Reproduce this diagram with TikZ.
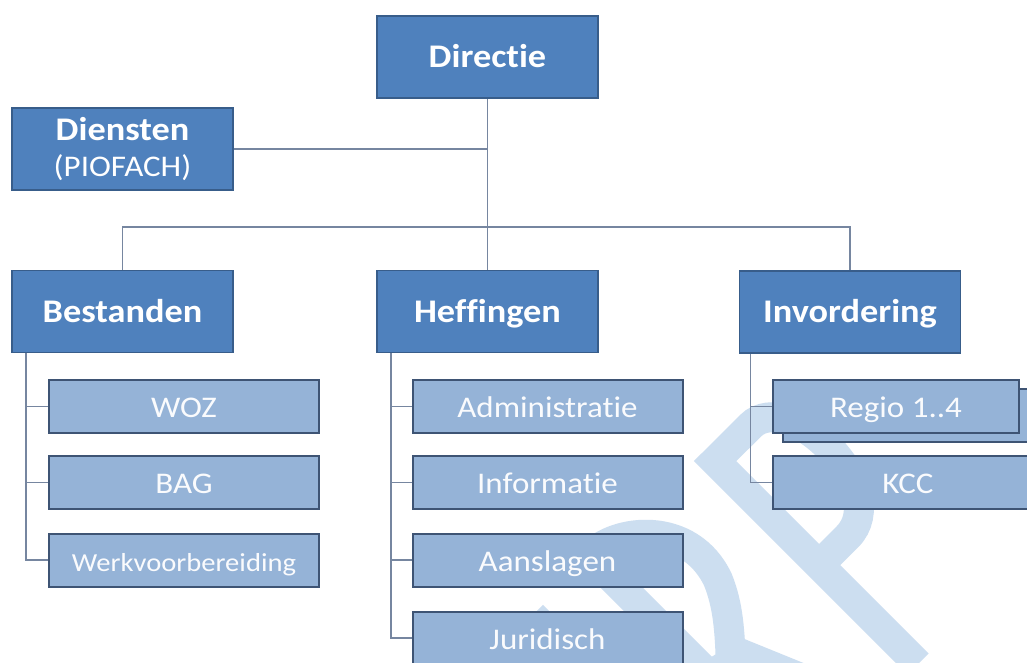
\documentclass[tikz,border=0pt]{standalone}
\usepackage{fontspec}
\setmainfont{Carlito}[FakeStretch=1.1, Ligatures={NoCommon,NoRequired,NoContextual}]
\usetikzlibrary{calc}
\definecolor{headblue}{RGB}{79,129,189}
\definecolor{headedge}{RGB}{56,93,138}
\definecolor{subblue}{RGB}{149,179,215}
\definecolor{subedge}{RGB}{62,84,116}
\definecolor{linkgray}{RGB}{118,134,160}
\definecolor{markblue}{RGB}{204,222,240}

\begin{document}
\begin{tikzpicture}[x=1pt, y=-1pt,
  headbox/.style={draw=headedge, line width=1.8pt, fill=headblue, text=white,
    minimum width=221pt, minimum height=82pt, inner sep=0pt,
    text height=21.3pt, text depth=0pt, font=\fontsize{33}{36}\selectfont\bfseries},
  subbox/.style={draw=subedge, line width=2pt, fill=subblue, text=white!95!subblue,
    minimum width=270pt, minimum height=53pt, inner sep=0pt,
    text height=22pt, text depth=0pt, font=\fontsize{30}{34}\selectfont},
  link/.style={draw=linkgray, line width=1.6pt},
  logo/.style={markblue, line width=30pt}]
  \clip (0,0) rectangle (1027,662);
  \fill[white] (0,0) rectangle (1027,662);
  \draw[logo] (918.1,664.1) -- (715.1,461.1) -- (750.5,425.8) .. controls (789.4,386.9) and (893.3,490.8) .. (847.4,536.8) -- (819.1,565.1);
  \draw[logo] (580,546) -- (720,686);
  \draw[logo] (590,556) .. controls (615,528) and (690,520) .. (718,580) .. controls (728,605) and (730,630) .. (731,670);
  \fill[markblue] (742,638) -- (806,664) -- (700,664) -- cycle;
  \draw[logo] (505,664) -- (543,626) -- (581,664);
  \node[headbox] (dir) at (487.5,57) {Directie};
  \node[headbox, align=center, text height={}, text depth={}] (dien) at (122.5,149) {Diensten\\{\fontsize{30}{32}\selectfont\mdseries (PIOFACH)}};
  \node[headbox] (best) at (122.5,311.5) {Bestanden};
  \node[headbox] (heff) at (487.5,311.5) {Heffingen};
  \node[headbox] (inv) at (850,312) {Invordering};
  \coordinate (split) at (487.5,227);
  \draw[link] (dir.south) -- (heff.north);
  \draw[link] (dien.east) -- (dien.east -| dir.south);
  \draw[link] (best.north) |- (split) -| (inv.north);
  \node[subbox] (woz) at (184,406.5) {WOZ};
  \node[subbox] (bag) at (184,482.5) {BAG};
  \node[subbox, font=\fontsize{26}{30}\selectfont] (wvb) at (184,560) {Werkvoorbereiding};
  \node[subbox] (adm) at (547.5,406.5) {Administratie};
  \node[subbox] (inf) at (547.5,482.5) {Informatie};
  \node[subbox] (aan) at (547.5,560) {Aanslagen};
  \node[subbox] (jur) at (547.5,638) {Juridisch};
  \node[subbox, minimum width=246pt] (regioback) at (906,415.5) {};
  \node[subbox, minimum width=246pt] (regio) at (896,406.5) {Regio 1..4};
  \node[subbox] (kcc) at (908,482.5) {KCC};
  \coordinate (bt) at ([xshift=15pt]best.south west);
  \coordinate (ht) at ([xshift=15pt]heff.south west);
  \coordinate (it) at ([xshift=12pt]inv.south west);
  \draw[link] (bt) |- (wvb.west);
  \foreach \n in {woz,bag} \draw[link] (\n.west) -- (\n.west -| bt);
  \draw[link] (ht) |- (jur.west);
  \foreach \n in {adm,inf,aan} \draw[link] (\n.west) -- (\n.west -| ht);
  \draw[link] (it) |- (kcc.west);
  \draw[link] (regio.west) -- (regio.west -| it);
\end{tikzpicture}
\end{document}
